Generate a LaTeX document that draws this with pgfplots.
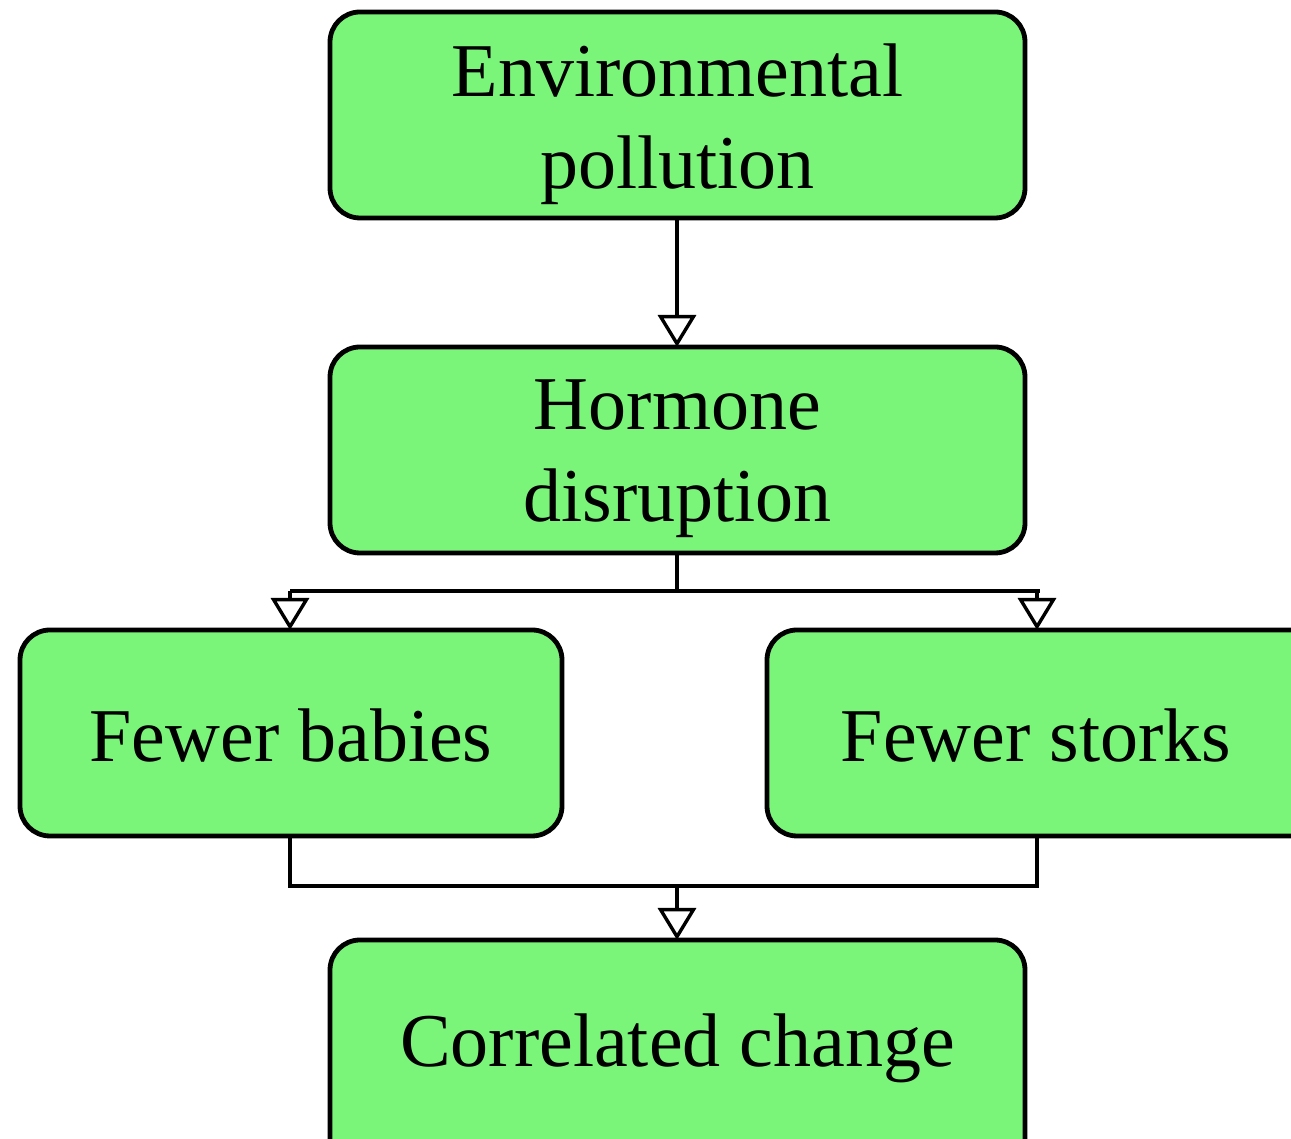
\documentclass[border=0pt]{standalone}
\usepackage{pgfplots}
\pgfplotsset{compat=1.18}
\usepackage{fontspec}
\setmainfont{Liberation Serif}
\usetikzlibrary{arrows.meta}
\definecolor{boxgreen}{RGB}{122,245,122}
\begin{document}
\begin{tikzpicture}
\begin{axis}[
  at={(0,0)}, anchor=south west,
  scale only axis, width=645.5pt, height=569.5pt,
  xmin=0, xmax=1291, ymin=0, ymax=1139,
  axis lines=none, ticks=none, clip=true,
]
\tikzset{
  bx/.style={draw=black, line width=2.4pt, fill=boxgreen, rounded corners=15pt},
  txt/.style={align=center, font=\fontsize{38}{46}\selectfont, inner sep=0pt},
  ln/.style={draw=black, line width=2.1pt},
  arr/.style={ln, -{Triangle[open, width=19pt, length=16pt, line width=1.7pt]}},
}
% boxes
\draw[bx] (330,1127) rectangle (1025,921);
\node[txt] at (677.5,1015) {Environmental\\pollution};
\draw[bx] (330,792) rectangle (1025,586);
\node[txt] at (677.5,680) {Hormone\\disruption};
\draw[bx] (20,509) rectangle (562,303);
\node[txt] at (291,403) {Fewer babies};
\draw[bx] (767,509) rectangle (1320,303);
\node[txt] at (1036,403) {Fewer storks};
\draw[bx] (330,199) rectangle (1025,-30);
\node[txt] at (677.5,91) {Correlated change};
% connectors
\draw[arr] (677,921) -- (677,792);
\draw[ln] (677,586) -- (677,548);
\draw[ln] (290,548) -- (1040,548);
\draw[arr] (290,548) -- (290,509);
\draw[arr] (1037,548) -- (1037,509);
\draw[ln] (290,303) -- (290,253) -- (1037,253) -- (1037,303);
\draw[arr] (677,253) -- (677,199);
\end{axis}
\pgfresetboundingbox
\path[use as bounding box] (0,0) rectangle (645.5pt,569.5pt);
\end{tikzpicture}
\end{document}
